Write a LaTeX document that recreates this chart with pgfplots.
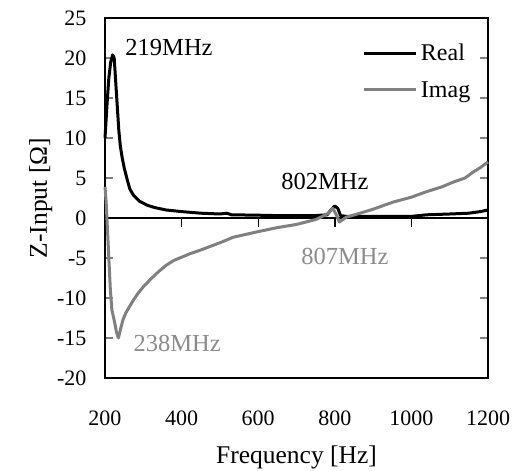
\documentclass[border=0pt]{standalone}
\usepackage{pgfplots}
\pgfplotsset{compat=1.18}
\usepackage{fontspec}
\setmainfont{Liberation Serif}
\definecolor{imag}{RGB}{128,128,128}
\definecolor{imagtxt}{RGB}{140,140,140}
\newcommand{\Ohm}{\symbol{"03A9}}
\pgfplotstableread{
f z
200 10
205 14
210 17.5
215 19.5
220 20.4
224 20
228 17
232 14
236 11
240 9
245 7.5
250 6.3
258 4.8
265 3.6
275 2.8
290 2.1
310 1.6
330 1.3
360 1.0
400 0.8
450 0.6
500 0.5
518 0.6
530 0.4
600 0.35
650 0.3
700 0.3
750 0.3
780 0.4
790 1.0
800 1.5
808 1.2
815 0.3
830 0.2
900 0.2
950 0.2
1000 0.2
1040 0.4
1100 0.5
1150 0.6
1180 0.8
1190 0.9
1200 1.0
}\realdata
\pgfplotstableread{
f z
200 3.9
203 2
206 -1
210 -5
214 -9
218 -11.5
225 -13
230 -14.3
235 -15
240 -14
247 -12.7
255 -11.8
265 -11
275 -10.2
285 -9.5
300 -8.6
320 -7.6
340 -6.7
360 -5.9
380 -5.3
420 -4.5
450 -4
500 -3.1
535 -2.4
600 -1.7
650 -1.2
700 -0.8
750 -0.2
780 0.5
795 1.2
805 0.3
812 -0.5
830 0.1
866 0.6
900 1.1
953 2
1000 2.6
1040 3.3
1080 3.9
1110 4.5
1140 5
1160 5.7
1180 6.3
1200 7
}\imagdata
\begin{document}
\begin{tikzpicture}
\useasboundingbox (0,0) rectangle (520pt,471pt);
\begin{axis}[
  at={(105pt,93pt)}, anchor=south west,
  scale only axis, width=383pt, height=360pt,
  xmin=200, xmax=1200, ymin=-20, ymax=25,
  axis line style={line width=1.5pt},
  xtick={200,400,600,800,1000,1200},
  xticklabels={200,400,600,800,1000,1200},
  ytick={-20,-15,-10,-5,0,5,10,15,20,25},
  yticklabels={-20,-15,-10,-5,0,5,10,15,20,25},
  xtick style={draw=none},
  ytick style={line width=1.2pt},
  major tick length=8pt,
  tick align=inside,
  ticklabel style={font=\fontsize{22}{26}\selectfont},
  xticklabel style={yshift=-29pt},
  yticklabel style={xshift=-15pt},
  xlabel={Frequency [Hz]},
  ylabel={Z-Input [\Ohm]},
  label style={font=\fontsize{25.5}{30}\selectfont},
  xlabel style={yshift=-14pt},
  ylabel style={yshift=-2pt},
  legend style={draw=none, fill=none, at={(axis cs:873,22)}, anchor=north west,
    font=\fontsize{24}{28}\selectfont, row sep=15pt, inner sep=0pt,
    nodes={inner xsep=3pt}},
  legend cell align=left,
  legend image code/.code={\draw[#1] (0pt,0pt) -- (52pt,0pt);},
  clip=false,
]
\draw[line width=1.3pt] (axis cs:200,0) -- (axis cs:1200,0);
\pgfplotsinvokeforeach{400,600,800,1000}{\draw[line width=1.4pt] ([yshift=-9pt]axis cs:#1,0) -- (axis cs:#1,0);}
\addplot[black, line width=3pt, line join=round] table[x=f,y=z] {\realdata};
\addlegendentry{Real}
\addplot[imag, line width=3pt, line join=round] table[x=f,y=z] {\imagdata};
\addlegendentry{Imag}
\node[anchor=west, inner sep=0pt, font=\fontsize{24.5}{28}\selectfont] at (axis cs:253,21.25) {219MHz};
\node[anchor=west, inner sep=0pt, font=\fontsize{24.5}{28}\selectfont] at (axis cs:660,4.6) {802MHz};
\node[anchor=west, inner sep=0pt, font=\fontsize{24.5}{28}\selectfont, text=imagtxt] at (axis cs:712,-4.75) {807MHz};
\node[anchor=west, inner sep=0pt, font=\fontsize{24.5}{28}\selectfont, text=imagtxt] at (axis cs:274,-15.7) {238MHz};
\end{axis}
\end{tikzpicture}
\end{document}
